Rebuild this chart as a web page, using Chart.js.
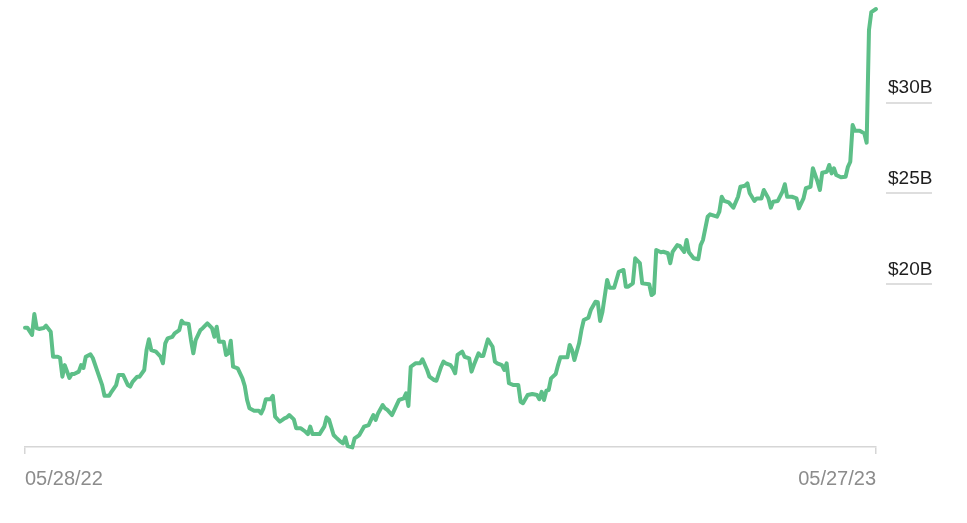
<!DOCTYPE html>
<html>
<head>
<meta charset="utf-8">
<title>Market cap</title>
<script src="https://cdn.jsdelivr.net/npm/chart.js@4/dist/chart.umd.min.js"></script>
<style>
  html, body { margin: 0; padding: 0; background: #fff; }
  #wrap { width: 967px; height: 523px; }
</style>
</head>
<body>
<div id="wrap"><canvas id="capChart" width="967" height="523"></canvas></div>
<script>
// days since 05/28/22 and value in $B
let dayOffsets = [0,1,3,4,5,6,8,9,11,12,14,15,16,17,19,20,21,23,24,25,26,28,29,31,33,34,36,37,39,40,42,44,45,
  46,48,49,51,52,53,54,56,58,59,60,61,63,64,66,67,68,70,71,72,73,75,76,78,80,81,82,83,85,86,87,88,89,91,93,94,95,96,
  98,100,101,102,103,105,106,107,109,111,112,113,115,116,118,120,121,122,123,126,128,129,130,132,133,135,136,137,138,140,141,143,
  145,147,148,149,150,151,153,154,155,157,158,160,162,163,164,165,167,169,170,172,173,175,176,178,179,180,182,183,184,185,187,188,190,
  191,192,194,195,196,198,200,201,202,204,205,206,207,209,211,212,213,215,217,219,220,221,222,223,224,225,227,228,229,232,233,234,235,237,
  238,239,241,242,244,245,246,247,249,250,252,254,256,257,258,260,261,263,264,267,268,269,270,272,273,275,276,277,279,280,282,
  283,284,286,288,289,290,292,293,294,296,297,298,299,301,303,305,306,308,309,310,312,313,315,316,318,319,320,322,324,325,326,328,330,331,
  333,334,336,337,339,340,341,343,344,345,346,347,349,351,352,353,354,355,357,359,360,361,362,364]

let capValues = [17.61,17.61,17.21,18.36,17.59,17.54,17.59,17.72,17.39,16.01,16.01,15.94,14.91,15.55,14.84,15.06,15.06,15.19,15.55,15.39,16.01,16.14,15.94,15.19,14.45,13.86,13.86,14.08,14.45,15.00,15.00,14.45,14.36,
  14.63,14.91,14.91,15.28,16.38,16.97,16.38,16.29,16.01,15.65,16.75,17.02,17.11,17.30,17.48,17.99,17.85,17.81,16.93,16.20,16.93,17.48,17.58,17.85,17.58,17.11,17.66,16.84,16.84,16.11,16.20,16.89,15.46,15.37,14.82,14.40,13.63,13.17,
  13.04,13.04,12.89,13.17,13.67,13.67,13.85,12.71,12.43,12.62,12.67,12.80,12.56,12.07,12.07,11.88,11.75,12.16,11.75,11.75,12.16,12.67,12.56,11.70,11.57,11.33,11.24,11.57,11.09,11.02,11.52,11.70,
  12.16,12.25,12.53,12.80,12.53,12.89,13.35,13.17,13.08,12.80,13.08,13.63,13.72,14.00,13.30,15.46,15.65,15.65,15.87,15.28,14.91,14.73,14.69,15.46,15.74,15.65,15.55,15.37,15.10,16.11,16.29,16.01,15.92,
  15.19,15.55,16.20,16.05,16.05,16.97,16.56,15.74,15.65,15.55,15.28,15.65,14.55,14.45,14.45,13.53,13.45,13.90,13.96,13.90,13.67,14.08,13.63,14.14,14.18,14.82,15.06,15.55,15.98,15.98,16.66,16.38,15.83,16.75,
  17.48,18.03,18.16,18.58,19.04,19.01,17.98,18.49,20.24,19.81,19.81,20.69,20.79,19.87,19.87,20.05,21.43,21.16,20.05,20.00,19.41,19.50,21.89,21.76,21.79,21.71,21.16,21.79,22.16,22.12,21.78,
  22.44,21.76,21.43,21.38,22.16,22.44,23.72,23.85,23.81,23.72,24.00,24.82,24.59,24.51,24.22,24.82,25.37,25.43,25.56,25.01,24.59,24.73,24.73,25.19,24.73,24.22,24.55,24.59,25.10,25.51,24.82,24.82,24.73,24.18,
  24.73,25.29,25.37,26.39,25.65,25.19,26.14,26.20,26.57,26.11,26.39,26.02,25.89,25.92,26.47,26.75,28.77,28.46,28.46,28.31,27.80,34.00,34.99,35.16]

let dateLabels = ["05/28/22", "05/27/23"]
let dateTickDays = [0, 364]
let valueTicks = [20, 25, 30]

let lineGreen = "#5dbf88";
let axisGray = "#d6d6d6";
let fontFamily = "'Liberation Sans', Arial, Helvetica, sans-serif";

let points = dayOffsets.map((d, i) => ({ x: d, y: capValues[i] }))

let ctx = document.getElementById("capChart").getContext("2d");
let capChart = new Chart(ctx, {
    type: "line",
    data: {
        datasets: [{
            data: points,
            borderColor: lineGreen,
            borderWidth: 4,
            pointRadius: 0,
            tension: 0,
            clip: false,
            borderJoinStyle: "round",
            borderCapStyle: "round"
        }]
    },
    options: {
        responsive: false,
        animation: false,
        devicePixelRatio: 1,
        layout: { padding: { left: 25, top: 0, right: 0, bottom: 0 } },
        plugins: { legend: { display: false }, tooltip: { enabled: false } },
        scales: {
            x: {
                type: "linear",
                min: 0,
                max: 364,
                afterBuildTicks: (scale) => { scale.ticks = dateTickDays.map(v => ({ value: v })) },
                afterFit: (scale) => { scale.height = 76 },
                grid: { drawOnChartArea: false, drawTicks: true, tickLength: 7, color: axisGray, lineWidth: 1.5 },
                border: { display: true, color: axisGray, width: 1.5 },
                ticks: {
                    autoSkip: false,
                    maxRotation: 0,
                    align: "inner",
                    padding: 13,
                    color: "#8c8c8c",
                    font: { family: fontFamily, size: 20 },
                    callback: (value, index) => dateLabels[index]
                }
            },
            y: {
                position: "right",
                min: 11.04,
                max: 35.655,
                afterBuildTicks: (scale) => { scale.ticks = valueTicks.map(v => ({ value: v })) },
                afterFit: (scale) => { scale.width = 91 },
                grid: {
                    drawOnChartArea: false,
                    drawTicks: true,
                    tickLength: 56,
                    color: "#dedede",
                    lineWidth: 2,
                    tickBorderDash: [0, 10, 46, 200]
                },
                border: { display: false },
                ticks: {
                    padding: -44,
                    labelOffset: -14.5,
                    color: "#1e1e1e",
                    font: { family: fontFamily, size: 19 },
                    callback: (value) => "$" + value + "B"
                }
            }
        }
    }
})
</script>
</body>
</html>
